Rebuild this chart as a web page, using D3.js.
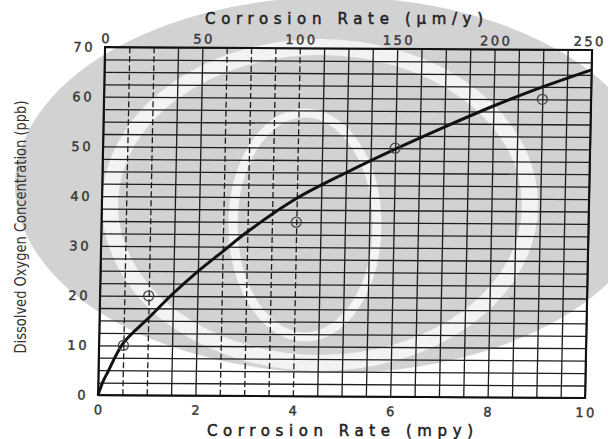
<!DOCTYPE html>
<html>
<head>
<meta charset="utf-8">
<script src="https://cdn.jsdelivr.net/npm/d3@7"></script>
<style>
body { margin: 0; background: #fff; }
.lbl text { font-family: "DejaVu Sans", sans-serif; font-size: 13px; fill: #3a3a3a; stroke: #3a3a3a; stroke-width: 0.45px; letter-spacing: 2.5px; }
.grid line { stroke: #1e1e1e; stroke-width: 1.3; }
.grid .dash line { stroke-dasharray: 6,3; }
.ttl { font-family: "DejaVu Sans", sans-serif; font-size: 15px; fill: #222; stroke: #222; stroke-width: 0.5px; }
</style>
</head>
<body>
<svg width="608" height="439"></svg>
<script>
// curve (mpy vs ppb)
const curveX = [0, 0.1, 0.2, 0.5, 1, 1.5, 2, 2.5, 3, 4, 5, 6, 7, 8, 9, 10];
const curveY = [0, 2.8, 4.8, 10.5, 15.5, 20.5, 25, 29, 33, 39.8, 45, 49.8, 54.3, 58.6, 62.5, 66];

// measured points (open circles)
const pointX = [0.5, 1, 4, 6, 9];
const pointY = [10, 20, 35, 50, 60];

const bottomTicks = [0, 2, 4, 6, 8, 10];
const topTicks = [0, 50, 100, 150, 200, 250];
const leftTicks = [0, 10, 20, 30, 40, 50, 60, 70];
const dashedX = [0.5, 1, 2.5, 3, 3.5, 4];

const svg = d3.select("svg");
const W = 487, H = 348;

// faint watermark behind the scan
const bg = svg.append("g");
bg.append("ellipse")
    .attr("cx", 335).attr("cy", 185).attr("rx", 320).attr("ry", 188)
    .attr("fill", "#d2d2d2");
bg.append("ellipse")
    .attr("cx", 320).attr("cy", 205).attr("rx", 210).attr("ry", 158)
    .attr("fill", "none").attr("stroke", "#f3f3f3").attr("stroke-width", 16);
bg.append("ellipse")
    .attr("cx", 305).attr("cy", 225).attr("rx", 72).attr("ry", 112)
    .attr("fill", "none").attr("stroke", "#f4f4f4").attr("stroke-width", 9);

// the scan is slightly sheared, so the plot gets a small skew
const g = svg.append("g")
    .attr("transform", "matrix(1,0.006,-0.0201,1,105,47)");

const x = d3.scaleLinear().domain([0, 10]).range([0, W]);
const xTop = d3.scaleLinear().domain([0, 250]).range([0, W]);
const y = d3.scaleLinear().domain([0, 70]).range([H, 0]);

// grid
g.append("g").attr("class", "grid")
    .call(d3.axisLeft(y).tickValues(d3.range(0, 70.01, 2.5)).tickSize(-W).tickFormat(""))
    .call(a => a.select(".domain").remove());

g.append("g").attr("class", "grid")
    .attr("transform", `translate(0,${H})`)
    .call(d3.axisBottom(x).tickValues(d3.range(0, 10.01, 0.5)).tickSize(-H).tickFormat(""))
    .call(a => a.select(".domain").remove())
    .call(a => a.selectAll(".tick").classed("dash", d => dashedX.includes(d)));

g.append("rect")
    .attr("width", W).attr("height", H)
    .attr("fill", "none").attr("stroke", "#111").attr("stroke-width", 2);

// tick labels
g.append("g").attr("class", "lbl")
    .attr("transform", `translate(0,${H})`)
    .call(d3.axisBottom(x).tickValues(bottomTicks).tickSize(0).tickPadding(10))
    .call(a => a.select(".domain").remove())
    .call(a => a.selectAll("text").attr("dx", 1));

g.append("g").attr("class", "lbl")
    .call(d3.axisTop(xTop).tickValues(topTicks).tickSize(0).tickPadding(4))
    .call(a => a.select(".domain").remove())
    .call(a => a.selectAll("text").attr("dx", d => d === 250 ? -3 : 1));

g.append("g").attr("class", "lbl")
    .call(d3.axisLeft(y).tickValues(leftTicks).tickSize(0).tickPadding(10))
    .call(a => a.select(".domain").remove());

// curve
const line = d3.line()
    .x(i => x(curveX[i]))
    .y(i => y(curveY[i]))
    .curve(d3.curveCatmullRom.alpha(0.5));

g.append("path")
    .attr("d", line(d3.range(curveX.length)))
    .attr("fill", "none")
    .attr("stroke", "#111")
    .attr("stroke-width", 3);

g.selectAll(".pt")
    .data(d3.range(pointX.length))
    .join("circle")
    .attr("class", "pt")
    .attr("cx", i => x(pointX[i]))
    .attr("cy", i => y(pointY[i]))
    .attr("r", 5)
    .attr("fill", "none")
    .attr("stroke", "#444")
    .attr("stroke-width", 1.3);

// titles
svg.append("text")
    .attr("class", "ttl")
    .attr("x", 344).attr("y", 24)
    .attr("text-anchor", "middle")
    .attr("textLength", 278).attr("lengthAdjust", "spacing")
    .text("Corrosion Rate (µm/y)");

svg.append("text")
    .attr("class", "ttl")
    .attr("x", 340).attr("y", 436)
    .attr("text-anchor", "middle")
    .attr("textLength", 266).attr("lengthAdjust", "spacing")
    .text("Corrosion Rate (mpy)");

svg.append("text")
    .attr("transform", "translate(26,227) rotate(-90)")
    .attr("text-anchor", "middle")
    .attr("textLength", 253).attr("lengthAdjust", "spacingAndGlyphs")
    .style("font-family", "Liberation Sans Narrow, DejaVu Sans Condensed, sans-serif")
    .style("font-size", "16px")
    .style("fill", "#333")
    .text("Dissolved Oxygen Concentration (ppb)");
</script>
</body>
</html>
